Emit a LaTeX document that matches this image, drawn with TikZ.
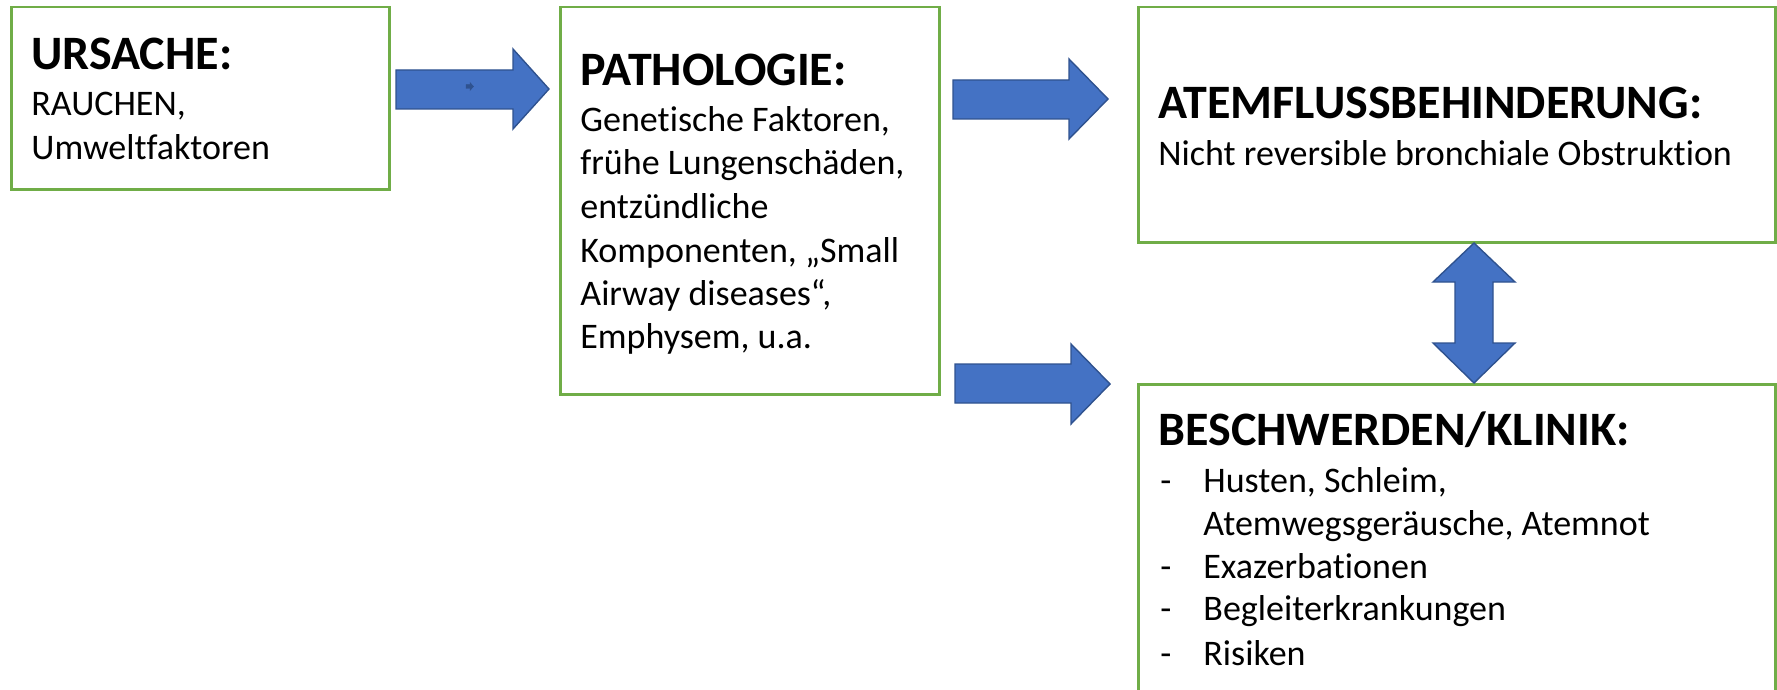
\documentclass[tikz,border=0pt]{standalone}
\usepackage{fontspec}
\setmainfont{Carlito}[Ligatures={NoCommon}]
\definecolor{boxgreen}{HTML}{70AD47}
\definecolor{arrfill}{HTML}{4472C4}
\definecolor{arrline}{HTML}{2F528F}
\newcommand\myhead{\fontsize{24}{28}\selectfont\bfseries}
\newcommand\mybody{\fontsize{18}{21.5}\selectfont}
\tikzset{
  box/.style={draw=boxgreen, line width=1.25pt, fill=white, rectangle, inner sep=0pt, anchor=north west},
  blockarrow/.style={fill=arrfill, draw=arrline, line width=0.7pt, line join=miter},
  hd/.style={anchor=base west, inner sep=0pt, font=\myhead},
  tx/.style={anchor=base west, inner sep=0pt, font=\mybody},
}
\begin{document}
\begin{tikzpicture}[x=0.5pt,y=-0.5pt]
\useasboundingbox (0,0) rectangle (1777,690);
% boxes
\node[box, minimum width=189pt, minimum height=91pt] (ursache) at (10,6) {};
\node[box, minimum width=189.5pt, minimum height=193.5pt] (patho) at (559,6) {};
\node[box, minimum width=318.5pt, minimum height=117.5pt] (atem) at (1137,6) {};
\node[box, minimum width=318.5pt, minimum height=163.5pt] (klinik) at (1137,383) {};
% arrows
\draw[blockarrow] (396,70) -- (513,70) -- (513,49) -- (549,89) -- (513,129) -- (513,109) -- (396,109) -- cycle;
\draw[fill=arrline, draw=arrline, line width=0.2pt] (466,84.5) -- (470,84.5) -- (470,82.5) -- (473.5,86.5) -- (470,90.5) -- (470,88.5) -- (466,88.5) -- cycle;
\draw[blockarrow] (953,80) -- (1069,80) -- (1069,59) -- (1108,99) -- (1069,139) -- (1069,119) -- (953,119) -- cycle;
\draw[blockarrow] (955,364) -- (1071,364) -- (1071,344) -- (1110,384) -- (1071,424) -- (1071,403) -- (955,403) -- cycle;
\draw[blockarrow] (1474,243) -- (1515,282) -- (1493,282) -- (1493,343) -- (1515,343) -- (1474,383) -- (1433,343) -- (1455,343) -- (1455,282) -- (1433,282) -- cycle;
% texts box 1
\node[hd] (u0) at (31,70) {URSACHE:};
\node[tx] (u1) at (31,116) {RAUCHEN,};
\node[tx] (u2) at (31,159) {Umweltfaktoren};
% texts box 2
\node[hd] (p0) at (580,86) {PATHOLOGIE:};
\node[tx] (p1) at (580,132) {Genetische Faktoren,};
\node[tx] (p2) at (580,175) {frühe Lungenschäden,};
\node[tx] (p3) at (580,218) {entzündliche};
\node[tx] (p4) at (580,262) {Komponenten, „Small};
\node[tx] (p5) at (580,305) {Airway diseases“,};
\node[tx] (p6) at (580,348) {Emphysem, u.a.};
% texts box 3
\node[hd] (a0) at (1158,119) {ATEMFLUSSBEHINDERUNG:};
\node[tx] (a1) at (1158,165) {Nicht reversible bronchiale Obstruktion};
% texts box 4
\node[hd] (k0) at (1158,445) {BESCHWERDEN/KLINIK:};
\node[tx] (d1) at (1160,492) {-};
\node[tx] (k1) at (1203,492) {Husten, Schleim,};
\node[tx] (k2) at (1203,535) {Atemwegsgeräusche, Atemnot};
\node[tx] (d3) at (1160,578) {-};
\node[tx] (k3) at (1203,578) {Exazerbationen};
\node[tx] (d4) at (1160,620) {-};
\node[tx] (k4) at (1203,620) {Begleiterkrankungen};
\node[tx] (d5) at (1160,665) {-};
\node[tx] (k5) at (1203,665) {Risiken};
\end{tikzpicture}
\end{document}
